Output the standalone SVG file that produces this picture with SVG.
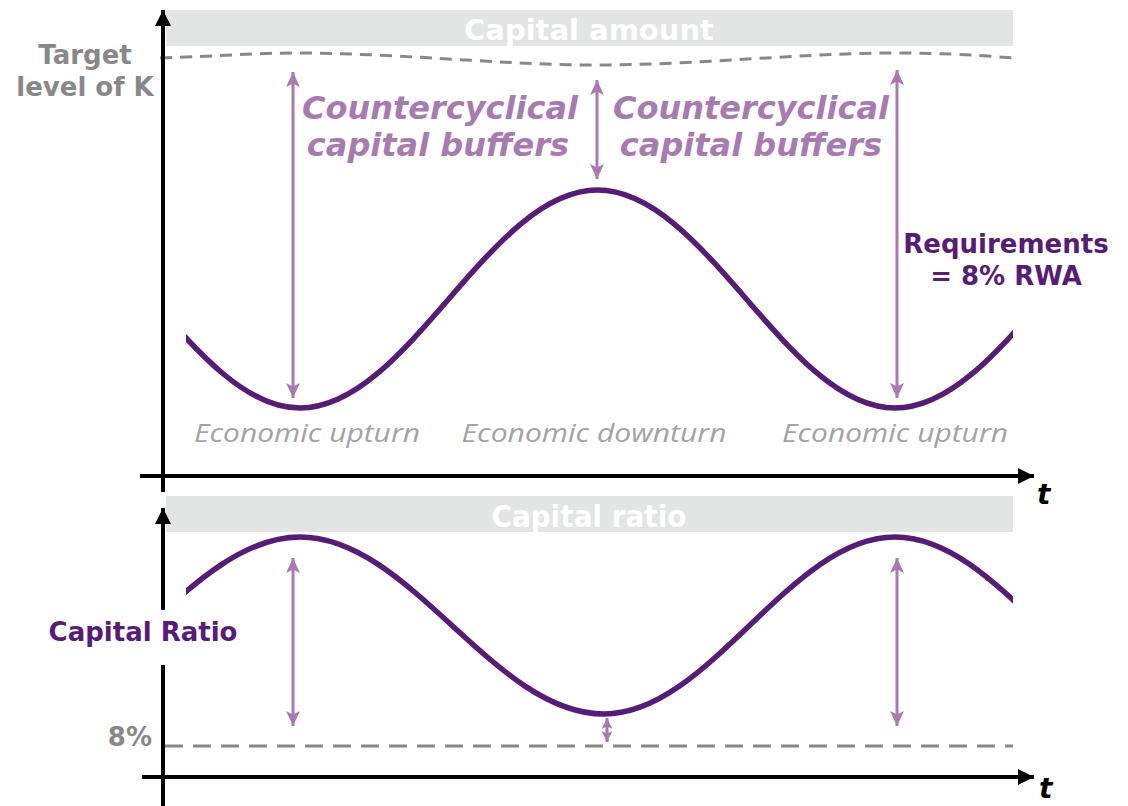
<svg xmlns="http://www.w3.org/2000/svg" width="1128" height="806" viewBox="0 0 1128 806">
<style>
.axis{stroke:#000;stroke-width:4;fill:none}
.bar{fill:#e3e4e4}
.bartxt{fill:#fff;font-family:"DejaVu Sans",sans-serif;font-weight:bold;font-size:29px;text-anchor:middle}
.bartxt2{fill:#fff;font-family:"DejaVu Sans Condensed","DejaVu Sans",sans-serif;font-weight:bold;font-size:31px;text-anchor:middle}
.curve{stroke:#561c76;stroke-width:5.5;fill:none}
.buf{stroke:#a87bb0;stroke-width:3;fill:none}
.dash{stroke:#888;stroke-width:3;fill:none}
.gray{fill:#888;font-family:"DejaVu Sans",sans-serif;font-weight:bold;font-size:26px}
.ccb{fill:#a87bb0;font-family:"DejaVu Sans",sans-serif;font-weight:bold;font-style:italic;font-size:32px;text-anchor:middle}
.dp{fill:#561c76;font-family:"DejaVu Sans",sans-serif;font-weight:bold;font-size:26px;text-anchor:middle}
.eco{fill:#a3a3a3;font-family:"Open Sans",sans-serif;font-style:italic;font-weight:400;font-size:26px;text-anchor:middle}
.t{fill:#000;font-family:"DejaVu Sans",sans-serif;font-weight:bold;font-style:italic;font-size:28px}
</style>
<defs>
<marker id="ax" markerUnits="userSpaceOnUse" markerWidth="20" markerHeight="20" viewBox="0 0 20 20" refX="18" refY="10" orient="auto">
<path d="M2,2 L18,10 L2,18 Z" fill="#000"/>
</marker>
<marker id="pa" markerUnits="userSpaceOnUse" markerWidth="16" markerHeight="16" viewBox="0 0 16 16" refX="15" refY="8" orient="auto-start-reverse">
<path d="M0,1 L15,8 L0,15 L3.5,8 Z" fill="#a87bb0"/>
</marker>
<marker id="ps" markerUnits="userSpaceOnUse" markerWidth="12" markerHeight="12" viewBox="0 0 12 12" refX="11" refY="6" orient="auto-start-reverse">
<path d="M0,0.5 L11,6 L0,11.5 L2.5,6 Z" fill="#a87bb0"/>
</marker>
<clipPath id="cx"><rect x="186" y="0" width="827" height="806"/></clipPath>
</defs>

<g id="capital-amount-panel">
<rect class="bar" x="166" y="10" width="847" height="36"/>
<text class="bartxt" x="589" y="40">Capital amount</text>
</g>

<g id="target-level">
<path class="dash" stroke-dasharray="12,8" d="M160,58 C220,56 260,53 293,53 C400,53 500,65 597,65 C700,65 800,53 895,53 C950,53 990,56 1013,58"/>
<text class="gray" text-anchor="middle" x="85" y="64">Target</text>
<text class="gray" text-anchor="middle" x="85" y="96">level of K</text>
</g>

<g id="capital-amount-curve">
<path class="curve" clip-path="url(#cx)" d="M2.5,190 C110.6,190 192.4,408 300,408 C408.1,408 489.4,190 597.5,190 C705.6,190 786.9,408 895,408 C1003.1,408 1084.4,190 1192.5,190"/>
</g>

<g id="buffer-label-left">
<text class="ccb" x="440" y="119">Countercyclical</text>
<text class="ccb" x="438" y="156">capital buffers</text>
</g>
<g id="buffer-label-right">
<text class="ccb" x="751" y="119">Countercyclical</text>
<text class="ccb" x="751" y="156">capital buffers</text>
</g>

<g id="requirements-label">
<text class="dp" x="1006" y="253">Requirements</text>
<text class="dp" x="1006" y="285">= 8% RWA</text>
</g>

<g id="phase-labels">
<text class="eco" x="307" y="442" textLength="226" lengthAdjust="spacingAndGlyphs">Economic upturn</text>
<text class="eco" x="594" y="442" textLength="265" lengthAdjust="spacingAndGlyphs">Economic downturn</text>
<text class="eco" x="895" y="442" textLength="226" lengthAdjust="spacingAndGlyphs">Economic upturn</text>
</g>

<g id="capital-ratio-panel">
<rect class="bar" x="166" y="496" width="847" height="36"/>
<text class="bartxt2" x="589" y="527">Capital ratio</text>
</g>

<g id="capital-ratio-curve">
<path class="curve" clip-path="url(#cx)" d="M-4,714 C106.5,714 189.5,537 300,537 C410.5,537 493.5,714 604,714 C709.7,714 789.3,537 895,537 C1000.7,537 1079.3,714 1186,714"/>
</g>

<g id="minimum-level">
<line class="dash" stroke-dasharray="18,10" x1="165" y1="746" x2="1013" y2="746"/>
<text class="gray" text-anchor="end" x="152" y="746" font-size="29">8%</text>
</g>

<g id="connectors">
<line class="axis" x1="163" y1="492" x2="163" y2="10" marker-end="url(#ax)"/>
<line class="axis" x1="140" y1="476" x2="1034" y2="476" marker-end="url(#ax)"/>
<line class="axis" x1="163" y1="806" x2="163" y2="508" marker-end="url(#ax)"/>
<line class="axis" x1="142" y1="777" x2="1034" y2="777" marker-end="url(#ax)"/>
<line class="buf" x1="293" y1="72" x2="293" y2="398" marker-start="url(#pa)" marker-end="url(#pa)"/>
<line class="buf" x1="597" y1="80" x2="597" y2="179" marker-start="url(#pa)" marker-end="url(#pa)"/>
<line class="buf" x1="897" y1="70" x2="897" y2="398" marker-start="url(#pa)" marker-end="url(#pa)"/>
<line class="buf" x1="293" y1="558" x2="293" y2="726" marker-start="url(#pa)" marker-end="url(#pa)"/>
<line class="buf" x1="897" y1="558" x2="897" y2="726" marker-start="url(#pa)" marker-end="url(#pa)"/>
<line class="buf" x1="607" y1="718" x2="607" y2="742" marker-start="url(#ps)" marker-end="url(#ps)"/>
</g>

<g id="axis-labels">
<text class="t" x="1037" y="504">t</text>
<text class="t" x="1039" y="798" font-size="27">t</text>
</g>

<g id="capital-ratio-label">
<rect x="156" y="610" width="14" height="55" fill="#fff"/>
<text class="dp" x="143" y="641">Capital Ratio</text>
</g>
</svg>
